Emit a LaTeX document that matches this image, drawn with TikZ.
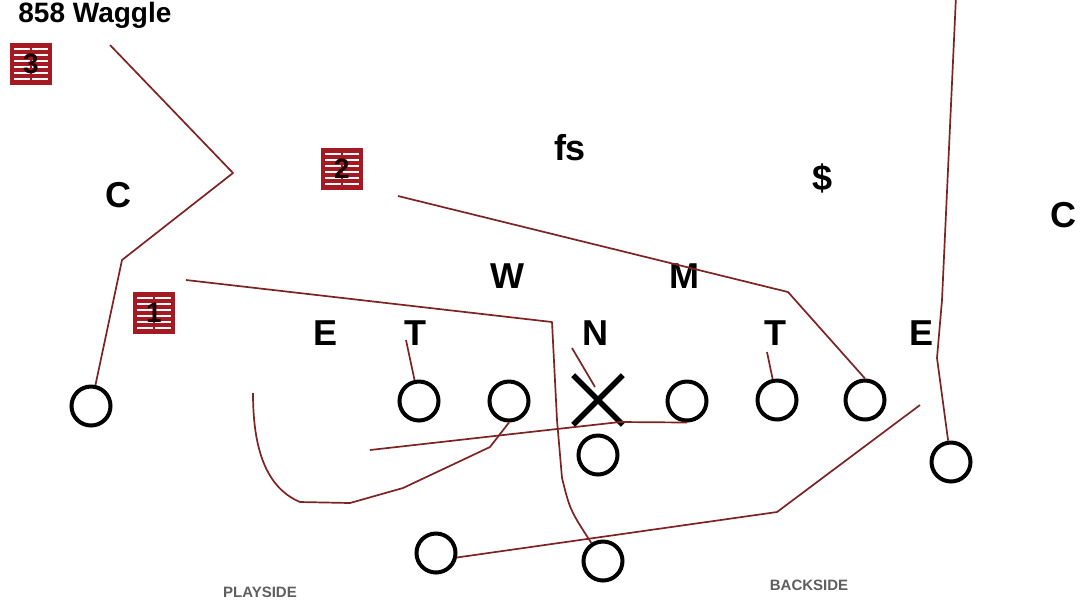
\documentclass[tikz,border=0pt]{standalone}
\usepackage{fontspec}
\setmainfont{Liberation Sans}
\usetikzlibrary{calc, arrows.meta, shapes.misc, positioning}
\definecolor{routeRed}{RGB}{125,35,35}
\definecolor{tagRed}{RGB}{165,25,35}
\definecolor{sideGray}{RGB}{95,95,95}
\tikzset{
  plyr/.style    = {circle, draw=black, line width=2pt, minimum size=19.5pt,
                    inner sep=0pt},
  ctrX/.style    = {cross out, draw=black, line width=2.8pt, minimum size=22pt,
                    inner sep=0pt},
  dLbl/.style    = {font=\fontsize{18}{20}\selectfont\bfseries, inner sep=0pt},
  route/.style   = {draw=routeRed, line width=0.85pt, line join=round},
  sideLbl/.style = {font=\fontsize{7.5}{9}\selectfont\bfseries, text=sideGray,
                    inner sep=0pt},
  mTag/.style    = {rectangle, fill=tagRed, minimum width=21pt, minimum height=21pt,
                    inner sep=0pt, font=\fontsize{14}{15}\selectfont\bfseries,
                    text=black!90!red,
                    path picture={
                      \foreach \k in {1,...,6}{
                        \draw[white!92!pink, line width=1pt]
                          ($(path picture bounding box.north west)!\k/7!(path picture bounding box.south west)+(2pt,0)$)
                          -- ++(17pt,0);}
                      \draw[tagRed, line width=1.4pt] (path picture bounding box.north)
                          -- (path picture bounding box.south);}},
}

\begin{document}
\begin{tikzpicture}[x=0.5pt, y=-0.5pt]
  \path[use as bounding box, fill=white] (0,0) rectangle (1081,602);
  \node[dLbl, font=\fontsize{14}{16}\selectfont\bfseries, anchor=base west] (ttl) at (18,22) {858 Waggle};
  % defence
  \node[dLbl] (cL) at (118,195) {C};
  \node[dLbl] (cR) at (1063,215) {C};
  \node[dLbl] (fs) at (570,148) {fs};
  \node[dLbl] (ss) at (822,178) {\$};
  \node[dLbl] (wl) at (507,276) {W};
  \node[dLbl] (ml) at (684,276) {M};
  \node[dLbl] (eL) at (326,333) {E};
  \node[dLbl] (tL) at (415,333) {T};
  \node[dLbl] (nl) at (595,333) {N};
  \node[dLbl] (tR) at (775,333) {T};
  \node[dLbl] (eR) at (921,333) {E};
  \node[mTag] (m3) at (31,64) {3};
  \node[mTag] (m2) at (342,169) {2};
  \node[mTag] (m1) at (154,313) {1};
  % offence
  \node[plyr] (wrL) at (91,406) {};
  \node[plyr] (lt) at (419,401) {};
  \node[plyr] (lg) at (509,401) {};
  \node[ctrX] (ctr) at (598,400) {};
  \node[plyr] (rg) at (687,401) {};
  \node[plyr] (rt) at (777,400) {};
  \node[plyr] (te) at (865,400) {};
  \node[plyr] (qb) at (598,455) {};
  \node[plyr] (wrR) at (951,462) {};
  \node[plyr] (hb) at (436,553) {};
  \node[plyr] (fb) at (603,561) {};
  \node[sideLbl] (ps) at (260,592) {PLAYSIDE};
  \node[sideLbl] (bs) at (809,585) {BACKSIDE};
  % routes
  \coordinate (wrLend) at (110,45);
  \coordinate (fbend) at (186,280);
  \coordinate (teend) at (398,196);
  \coordinate (wrRend) at (956,-4);
  \coordinate (hbend) at (920,405);
  \coordinate (rgend) at (370,450);
  \coordinate (lgend) at (253,393);
  \coordinate (tLa) at (406,340);
  \coordinate (nla) at (572,348);
  \coordinate (ctrA) at (595,387);
  \coordinate (tRa) at (767,352);
  \draw[route] (wrL) -- (122,260) -- (233,173) -- (wrLend);
  \draw[route] (fbend) -- (552,322) -- (557,420) -- (562,478) .. controls (570,510) .. (fb);
  \draw[route] (teend) -- (788,292) -- (te.north);
  \draw[route] (wrR) -- (937,358) -- (942,300) -- (wrRend);
  \draw[route] (hb.-12) -- (777,512) -- (hbend);
  \draw[route] (rg.south) -- (620,422) -- (530,432) -- (rgend);
  \draw[route] (lg.south) -- (490,447) -- (403,488) -- (350,503) -- (300,502)
      .. controls (262,486) and (253,440) .. (lgend);
  \draw[route] (tLa) -- (lt);
  \draw[route] (nla) -- (ctrA);
  \draw[route] (tRa) -- (rt);
\end{tikzpicture}
\end{document}
